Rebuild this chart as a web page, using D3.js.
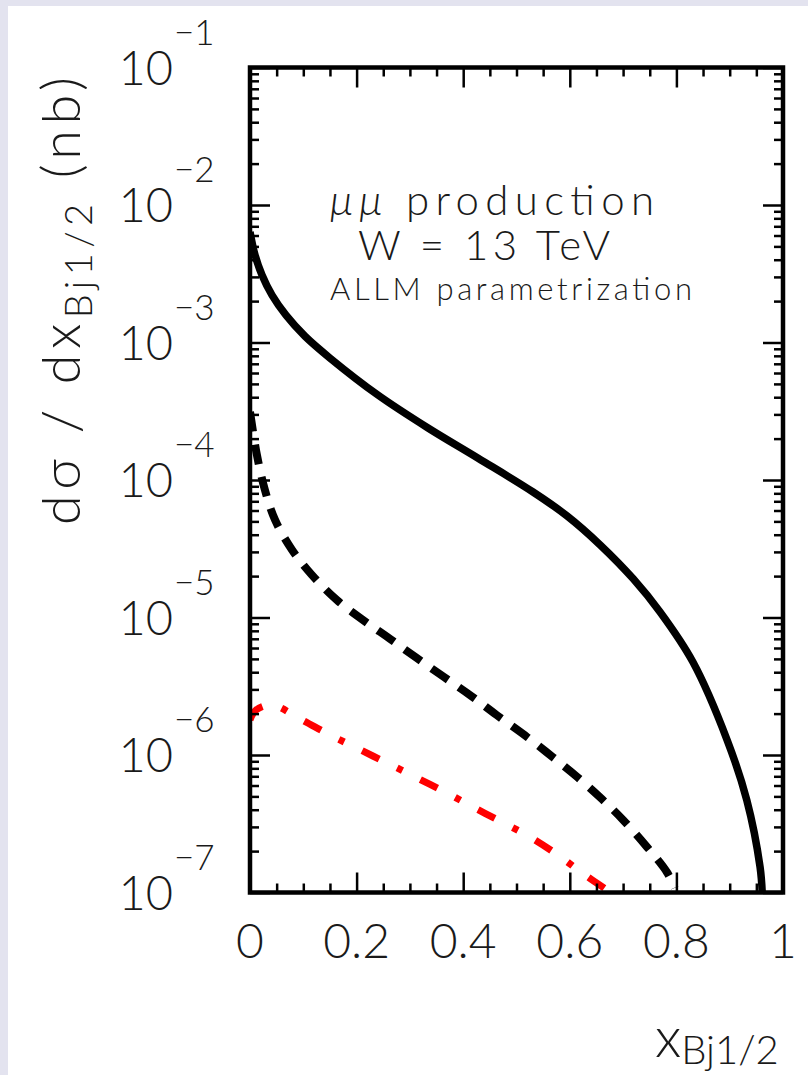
<!DOCTYPE html>
<html>
<head>
<meta charset="utf-8">
<script src="https://cdn.jsdelivr.net/npm/d3@7"></script>
<style>
body { margin: 0; background: #e3e3ef; }
svg { display: block; }
text { font-family: Lato, "Liberation Sans", sans-serif; font-weight: 300; fill: #1a1a1a; }
</style>
</head>
<body>
<svg id="chart" width="808" height="1075"></svg>
<script>
// tick values / labels
const xMajor = [0, 0.2, 0.4, 0.6, 0.8, 1];
const xLabels = ["0", "0.2", "0.4", "0.6", "0.8", "1"];
const yDecades = [1e-7, 1e-6, 1e-5, 1e-4, 1e-3, 1e-2, 1e-1];
const yExponents = ["\u22127", "\u22126", "\u22125", "\u22124", "\u22123", "\u22122", "\u22121"];

// solid black curve
const xSolid = [0, 0.0094, 0.0225, 0.0413, 0.0675, 0.1032, 0.15, 0.24, 0.334, 0.428, 0.531, 0.595, 0.657, 0.719, 0.769, 0.831, 0.895, 0.932, 0.957, 0.961];
const ySolid = [6.37e-3, 4.33e-3, 3.10e-3, 2.21e-3, 1.58e-3, 1.11e-3, 7.71e-4, 4.15e-4, 2.39e-4, 1.44e-4, 8.18e-5, 5.47e-5, 3.37e-5, 1.91e-5, 1.10e-5, 4.74e-6, 1.29e-6, 4.71e-7, 1.53e-7, 1.0e-7];

// dashed black curve
const xDashed = [0, 0.013, 0.028, 0.047, 0.079, 0.116, 0.163, 0.212, 0.263, 0.313, 0.364, 0.415, 0.463, 0.52, 0.568, 0.614, 0.66, 0.70, 0.745, 0.782, 0.797];
const yDashed = [3.13e-4, 1.52e-4, 8.46e-5, 5.12e-5, 3.10e-5, 2.04e-5, 1.34e-5, 9.60e-6, 6.98e-6, 5.07e-6, 3.69e-6, 2.69e-6, 1.95e-6, 1.35e-6, 9.66e-7, 6.92e-7, 4.79e-7, 3.37e-7, 2.14e-7, 1.41e-7, 1.08e-7];

// red dash-dot curve
const xRed = [0, 0.011, 0.041, 0.094, 0.15, 0.203, 0.257, 0.31, 0.366, 0.418, 0.469, 0.522, 0.572, 0.623, 0.67];
const yRed = [1.80e-6, 2.12e-6, 2.31e-6, 1.83e-6, 1.40e-6, 1.11e-6, 8.75e-7, 6.92e-7, 5.38e-7, 4.19e-7, 3.31e-7, 2.58e-7, 1.94e-7, 1.39e-7, 1.04e-7];

const svg = d3.select('#chart');
const plot = {left: 250, right: 783, top: 67.5, bottom: 892.5};

// white page area (reference has a light border on top/left)
svg.append('rect').attr('x', 8).attr('y', 6).attr('width', 800).attr('height', 1069).attr('fill', '#fff');

const x = d3.scaleLinear().domain([0, 1]).range([plot.left, plot.right]);
const y = d3.scaleLog().domain([1e-7, 1e-1]).range([plot.bottom, plot.top]);

svg.append('clipPath').attr('id', 'clip')
    .append('rect')
    .attr('x', plot.left).attr('y', plot.top)
    .attr('width', plot.right - plot.left).attr('height', plot.bottom - plot.top);

const line = d3.line()
    .x(d => x(d[0]))
    .y(d => y(d[1]))
    .curve(d3.curveCatmullRom.alpha(0.5));

const curves = [
    {xs: xSolid, ys: ySolid, color: '#000', width: 7.5, dash: null},
    {xs: xDashed, ys: yDashed, color: '#000', width: 8, dash: '20,13'},
    {xs: xRed, ys: yRed, color: '#ff0000', width: 7, dash: '19,20,6,20'}
];

const cg = svg.append('g').attr('clip-path', 'url(#clip)');
curves.forEach(c => {
    cg.append('path')
        .datum(c.xs.map((v, i) => [v, c.ys[i]]))
        .attr('d', line)
        .attr('fill', 'none')
        .attr('stroke', c.color)
        .attr('stroke-width', c.width)
        .attr('stroke-dasharray', c.dash);
});

// ticks
const xMinor = d3.range(0, 1.0001, 0.05).filter(v => Math.abs(v / 0.2 - Math.round(v / 0.2)) > 0.01);
const yMinor = y.ticks().filter(v => Math.abs(Math.log10(v) - Math.round(Math.log10(v))) > 0.001);

function drawAxis(axisFn, scale, values, size, transform) {
    const g = svg.append('g')
        .attr('transform', transform)
        .call(axisFn(scale).tickValues(values).tickSize(-size).tickFormat(''));
    g.select('.domain').remove();
    g.selectAll('line').attr('stroke', '#000').attr('stroke-width', 2.5);
}

drawAxis(d3.axisBottom, x, xMinor, 9, `translate(0,${plot.bottom})`);
drawAxis(d3.axisBottom, x, xMajor, 20, `translate(0,${plot.bottom})`);
drawAxis(d3.axisTop, x, xMinor, 9, `translate(0,${plot.top})`);
drawAxis(d3.axisTop, x, xMajor, 20, `translate(0,${plot.top})`);
drawAxis(d3.axisLeft, y, yMinor, 9, `translate(${plot.left},0)`);
drawAxis(d3.axisLeft, y, yDecades, 20, `translate(${plot.left},0)`);
drawAxis(d3.axisRight, y, yMinor, 9, `translate(${plot.right},0)`);
drawAxis(d3.axisRight, y, yDecades, 20, `translate(${plot.right},0)`);

// frame
svg.append('rect')
    .attr('x', plot.left).attr('y', plot.top)
    .attr('width', plot.right - plot.left).attr('height', plot.bottom - plot.top)
    .attr('fill', 'none').attr('stroke', '#000').attr('stroke-width', 4.5);

// x tick labels
svg.append('g').selectAll('text')
    .data(xMajor)
    .join('text')
    .attr('x', d => x(d))
    .attr('y', 958)
    .attr('text-anchor', 'middle')
    .style('font-size', '48px')
    .text((d, i) => xLabels[i]);

// y tick labels 10^n
const yl = svg.append('g');
yDecades.forEach((d, i) => {
    yl.append('text')
        .attr('x', 173).attr('y', y(d) + 17)
        .attr('text-anchor', 'end')
        .style('font-size', '47px')
        .text('10');
    yl.append('text')
        .attr('x', 174).attr('y', y(d) - 23)
        .style('font-size', '35px')
        .text(yExponents[i]);
});

// axis titles
const yt = svg.append('text')
    .attr('transform', 'translate(80,525) rotate(-90)')
    .attr('textLength', 448)
    .attr('lengthAdjust', 'spacing')
    .style('font-size', '54px');
yt.append('tspan').text('d\u03c3 / dx');
yt.append('tspan').attr('dy', 12).style('font-size', '38px').text('Bj1/2');
yt.append('tspan').attr('dy', -12).text(' (nb)');

const xt = svg.append('text')
    .attr('x', 655).attr('y', 1057)
    .style('font-size', '56px');
xt.append('tspan').text('x');
xt.append('tspan').attr('dy', 7).style('font-size', '40px').text('Bj1/2');

// annotation
const t1 = svg.append('text')
    .attr('x', 330).attr('y', 215)
    .attr('textLength', 324).attr('lengthAdjust', 'spacing')
    .style('font-size', '42px');
t1.append('tspan').style('font-style', 'italic').text('\u03bc\u03bc');
t1.append('tspan').text(' production');

svg.append('text')
    .attr('x', 358).attr('y', 260)
    .attr('textLength', 252).attr('lengthAdjust', 'spacing')
    .style('font-size', '42px')
    .text('W = 13 TeV');

svg.append('text')
    .attr('x', 330).attr('y', 300)
    .attr('textLength', 362).attr('lengthAdjust', 'spacing')
    .style('font-size', '31px')
    .text('ALLM parametrization');
</script>
</body>
</html>
